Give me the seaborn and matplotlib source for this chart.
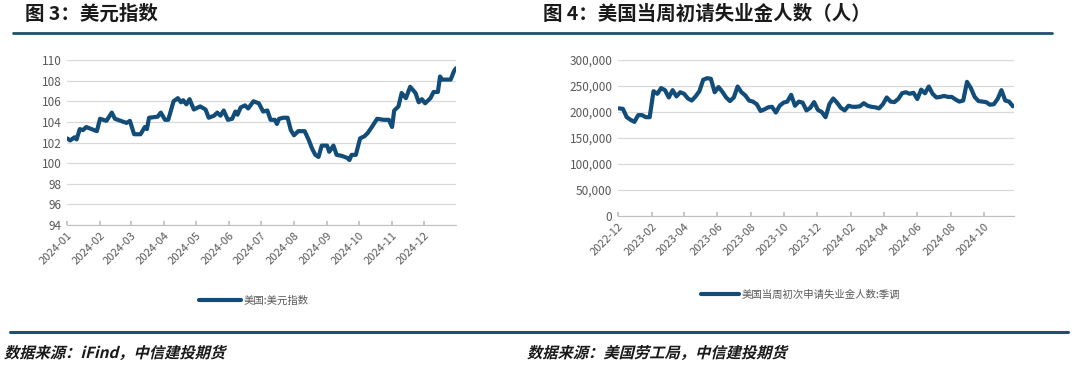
import matplotlib
matplotlib.use('Agg')
import matplotlib.pyplot as plt
import matplotlib.dates as mdates
import matplotlib.ticker as mticker
from matplotlib.lines import Line2D
from matplotlib.textpath import TextPath
from matplotlib.patches import PathPatch
from matplotlib.font_manager import FontProperties
from matplotlib.transforms import Affine2D
import numpy as np
import pandas as pd
import seaborn as sns

# ---- data: US dollar index 2024
dxy_dates = ['2024-01-01', '2024-01-04', '2024-01-08', '2024-01-10', '2024-01-13',
             '2024-01-16', '2024-01-19', '2024-01-24', '2024-01-29',
             '2024-02-01', '2024-02-04', '2024-02-07', '2024-02-12', '2024-02-15',
             '2024-02-23', '2024-02-26', '2024-02-29', '2024-03-04', '2024-03-10',
             '2024-03-14', '2024-03-16', '2024-03-18', '2024-03-26', '2024-03-29', '2024-04-02',
             '2024-04-05', '2024-04-10', '2024-04-14', '2024-04-17', '2024-04-19', '2024-04-22',
             '2024-04-25', '2024-04-29', '2024-05-05', '2024-05-10', '2024-05-13',
             '2024-05-18', '2024-05-21', '2024-05-24', '2024-05-27', '2024-05-31',
             '2024-06-04', '2024-06-07', '2024-06-09', '2024-06-12', '2024-06-16', '2024-06-19',
             '2024-06-24', '2024-06-29', '2024-07-03', '2024-07-07', '2024-07-10',
             '2024-07-14', '2024-07-16', '2024-07-18', '2024-07-22', '2024-07-26', '2024-07-29',
             '2024-08-01', '2024-08-05', '2024-08-11', '2024-08-15', '2024-08-18',
             '2024-08-21', '2024-08-24', '2024-08-27', '2024-09-01', '2024-09-03',
             '2024-09-07', '2024-09-10', '2024-09-15', '2024-09-20', '2024-09-22', '2024-09-24',
             '2024-09-28', '2024-10-02', '2024-10-06', '2024-10-09', '2024-10-13',
             '2024-10-18', '2024-10-24', '2024-10-29', '2024-11-01', '2024-11-03',
             '2024-11-07', '2024-11-10', '2024-11-14', '2024-11-18', '2024-11-23',
             '2024-11-26', '2024-11-29', '2024-12-02', '2024-12-07', '2024-12-10',
             '2024-12-14', '2024-12-16', '2024-12-18', '2024-12-26', '2024-12-29',
             '2024-12-31']
dxy_values = [102.4, 102.2, 102.5, 102.3, 103.3,
              103.2, 103.5, 103.3, 103.1,
              104.3, 104.2, 104.1, 104.9, 104.3,
              104.0, 103.9, 104.1, 102.8, 102.8,
              103.5, 103.3, 104.4, 104.5, 104.9, 104.2,
              104.2, 106.0, 106.3, 105.9, 106.1, 105.7,
              106.2, 105.2, 105.5, 105.2, 104.4,
              104.6, 104.9, 104.6, 105.1, 104.2,
              104.3, 105.0, 104.7, 105.4, 105.6, 105.3,
              106.0, 105.8, 105.0, 105.1, 104.2,
              104.2, 103.8, 104.3, 104.4, 104.4, 103.2,
              102.7, 103.1, 103.1, 102.2, 101.4,
              100.8, 100.6, 101.7, 101.7, 101.1,
              101.7, 100.8, 100.7, 100.5, 100.3, 100.8,
              100.8, 102.4, 102.6, 102.9, 103.5,
              104.3, 104.2, 104.2, 103.5, 105.1,
              105.5, 106.8, 106.3, 107.4, 106.8,
              105.9, 106.2, 105.8, 106.3, 106.9,
              106.9, 108.4, 108.1, 108.1, 108.9,
              109.2]

# ---- data: US initial jobless claims, weekly, seasonally adjusted (thousands)
claims_start = '2022-12-03'
claims_values = [207, 206, 190, 185, 181, 194, 194, 190, 190, 240,
                 235, 246, 242, 228, 242, 230, 238, 235, 226, 222,
                 230, 240, 262, 265, 264, 238, 248, 239, 228, 221,
                 228, 249, 238, 232, 222, 220, 215, 202, 205, 209,
                 210, 199, 212, 218, 220, 233, 212, 220, 218, 203,
                 208, 219, 204, 200, 190, 215, 226, 218, 208, 203,
                 212, 210, 210, 211, 217, 212, 210, 209, 207, 215,
                 228, 220, 219, 225, 236, 238, 235, 237, 225, 243,
                 236, 249, 235, 228, 229, 231, 229, 229, 224, 220,
                 222, 258, 246, 229, 221, 220, 219, 214, 215, 225,
                 242, 222, 220, 211]

left_title = '图 3：美元指数'
right_title = '图 4：美国当周初请失业金人数（人）'
left_label = '美国:美元指数'
right_label = '美国当周初次申请失业金人数:季调'
left_source = '数据来源：iFind，中信建投期货'
right_source = '数据来源：美国劳工局，中信建投期货'

dxy = pd.DataFrame({'date': pd.to_datetime(dxy_dates), 'value': dxy_values})
claims = pd.DataFrame({'date': pd.date_range(claims_start, periods=len(claims_values), freq='W-SAT'),
                       'value': np.array(claims_values) * 1000})

sns.set_theme(style='white')
plt.rcParams['font.family'] = ['Noto Sans CJK SC', 'DejaVu Sans']

LINE = '#114d78'
RULE = '#1d4f6e'
TICK = '#595959'
GRID = '#d9d9d9'

W, H = 1080, 372
fig = plt.figure(figsize=(W / 100, H / 100), dpi=100)


def fx(px):
    return px / W


def fy(py):
    return 1 - py / H


def style_axis(ax):
    for s in ['top', 'right', 'left']:
        ax.spines[s].set_visible(False)
    ax.spines['bottom'].set_color('#bfbfbf')
    ax.spines['bottom'].set_linewidth(0.8)
    ax.grid(axis='y', color=GRID, linewidth=0.9)
    ax.grid(axis='x', visible=False)
    ax.tick_params(axis='y', length=0, labelsize=8.5, labelcolor=TICK, pad=4)
    ax.tick_params(axis='x', direction='in', length=3, color='#bfbfbf',
                   labelsize=8, labelcolor=TICK, pad=4, bottom=True)
    for lab in ax.get_xticklabels():
        lab.set_rotation(45)
        lab.set_ha('right')
        lab.set_rotation_mode('anchor')
    ax.set_xlabel('')
    ax.set_ylabel('')


# left chart
ax1 = fig.add_axes([fx(67), fy(225), fx(456 - 67), (225 - 60) / H])
sns.lineplot(data=dxy, x='date', y='value', ax=ax1, color=LINE, linewidth=3)
ax1.set_ylim(94, 110)
ax1.set_yticks(np.arange(94, 111, 2))
ax1.set_xlim(pd.Timestamp('2024-01-01'), pd.Timestamp('2024-12-31'))
ax1.set_xticks(pd.date_range('2024-01-01', '2024-12-01', freq='MS'))
ax1.xaxis.set_major_formatter(mdates.DateFormatter('%Y-%m'))
style_axis(ax1)

# right chart
ax2 = fig.add_axes([fx(618), fy(216), fx(1014 - 618), (216 - 60) / H])
sns.lineplot(data=claims, x='date', y='value', ax=ax2, color=LINE, linewidth=3)
ax2.set_ylim(0, 300000)
ax2.set_yticks(np.arange(0, 300001, 50000))
ax2.yaxis.set_major_formatter(mticker.FuncFormatter(lambda v, p: f'{int(v):,}'))
ax2.set_xlim(pd.Timestamp('2022-12-01'), pd.Timestamp('2024-11-25'))
ax2.set_xticks(pd.date_range('2022-12-01', '2024-10-01', freq='2MS'))
ax2.xaxis.set_major_formatter(mdates.DateFormatter('%Y-%m'))
style_axis(ax2)

# legends
h1 = [Line2D([0], [0], color=LINE, linewidth=3)]
fig.legend(h1, [left_label], loc='center', bbox_to_anchor=(fx(254), fy(301)),
           frameon=False, fontsize=7.5, labelcolor=TICK, handlelength=4.0,
           handletextpad=0.3)
fig.legend(h1, [right_label], loc='center', bbox_to_anchor=(fx(801), fy(295)),
           frameon=False, fontsize=7.5, labelcolor=TICK, handlelength=3.6,
           handletextpad=0.3)

# titles and rules
fig.text(fx(25), fy(14), left_title, fontsize=14, fontweight='bold',
         color='#1a1a1a', va='center', ha='left')
fig.text(fx(543), fy(14), right_title, fontsize=14, fontweight='bold',
         color='#1a1a1a', va='center', ha='left')
fig.add_artist(Line2D([fx(13), fx(1052)], [fy(33), fy(33)], color=RULE, linewidth=2))
fig.add_artist(Line2D([fx(10), fx(1068)], [fy(332), fy(332)], color=RULE, linewidth=2.2))


# sources, bold with a slant (CJK fonts have no italic)
def slanted(text, x, y, size=11):
    fp = FontProperties(family='Noto Sans CJK SC', weight='bold', size=size)
    tp = TextPath((0, 0), text, prop=fp)
    tr = Affine2D().skew_deg(14, 0).scale(100 / 72).translate(x, H - y)
    fig.add_artist(PathPatch(tr.transform_path(tp), color='#1a1a1a', lw=0,
                             transform=None))


slanted(left_source, 4, 358)
slanted(right_source, 527, 358)

fig.savefig('out.png', dpi=100)
